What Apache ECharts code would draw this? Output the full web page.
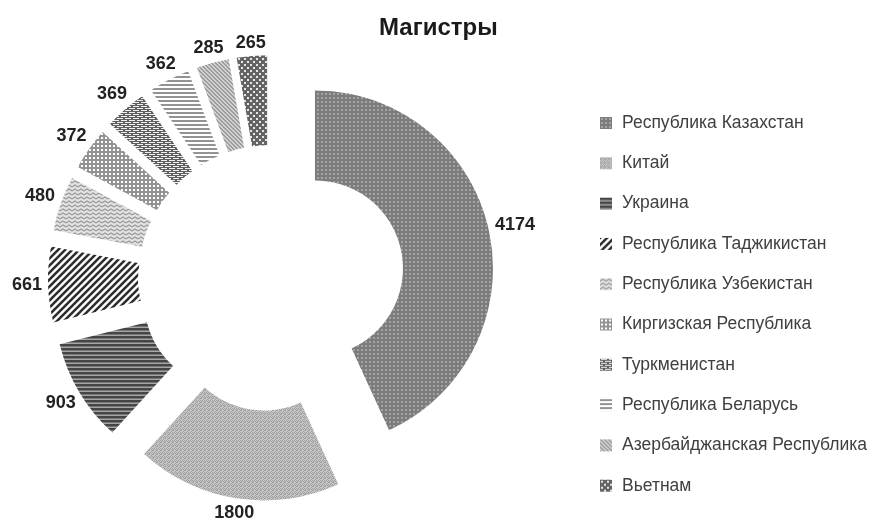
<!DOCTYPE html>
<html lang="ru">
<head>
    <meta charset="UTF-8">
    <title>Магистры</title>
    <script src="https://cdn.jsdelivr.net/npm/echarts@6/dist/echarts.min.js"></script>
    <style>
        html, body { margin: 0; padding: 0; background: #fff; }
        #chart { width: 871px; height: 528px; }
    </style>
</head>
<body>
<div id="chart"></div>
<script>
    // данные
    var countries = ['Республика Казахстан', 'Китай', 'Украина', 'Республика Таджикистан',
        'Республика Узбекистан', 'Киргизская Республика', 'Туркменистан',
        'Республика Беларусь', 'Азербайджанская Республика', 'Вьетнам'];
    var students = [4174, 1800, 903, 661, 480, 372, 369, 362, 285, 265];

    // штриховки
    function tile(w, h, draw) {
        var c = document.createElement('canvas');
        c.width = w;
        c.height = h;
        draw(c.getContext('2d'));
        return {image: c, repeat: 'repeat'};
    }

    var patterns = [
        // Казахстан - точки на сером
        tile(4, 4, function (ctx) {
            ctx.fillStyle = '#7c7c7c'; ctx.fillRect(0, 0, 4, 4);
            ctx.fillStyle = '#a4a4a4'; ctx.fillRect(1, 1, 2, 2);
        }),
        // Китай - мелкая клетка
        tile(4, 4, function (ctx) {
            ctx.fillStyle = '#c6c6c6'; ctx.fillRect(0, 0, 4, 4);
            ctx.fillStyle = '#a0a0a0';
            ctx.fillRect(0, 0, 1, 1); ctx.fillRect(2, 0, 1, 1);
            ctx.fillRect(1, 1, 1, 1); ctx.fillRect(3, 1, 1, 1);
            ctx.fillRect(0, 2, 2, 1); ctx.fillRect(3, 3, 1, 1);
        }),
        // Украина - темные горизонтальные полосы
        tile(1, 4, function (ctx) {
            ctx.fillStyle = '#a6a6a6'; ctx.fillRect(0, 0, 1, 4);
            ctx.fillStyle = '#454545'; ctx.fillRect(0, 0, 1, 2.5);
        }),
        // Таджикистан - широкая диагональ
        tile(7, 7, function (ctx) {
            ctx.fillStyle = '#fff'; ctx.fillRect(0, 0, 7, 7);
            ctx.strokeStyle = '#2e2e2e'; ctx.lineWidth = 2.6;
            ctx.beginPath();
            ctx.moveTo(-1, 8); ctx.lineTo(8, -1);
            ctx.moveTo(-4.5, 4.5); ctx.lineTo(4.5, -4.5);
            ctx.moveTo(2.5, 11.5); ctx.lineTo(11.5, 2.5);
            ctx.stroke();
        }),
        // Узбекистан - волна
        tile(6, 4, function (ctx) {
            ctx.fillStyle = '#e2e2e2'; ctx.fillRect(0, 0, 6, 4);
            ctx.strokeStyle = '#9a9a9a'; ctx.lineWidth = 1.2;
            ctx.beginPath();
            ctx.moveTo(0, 3); ctx.lineTo(3, 1); ctx.lineTo(6, 3);
            ctx.stroke();
        }),
        // Киргизия - решетка
        tile(4, 4, function (ctx) {
            ctx.fillStyle = '#939393'; ctx.fillRect(0, 0, 4, 4);
            ctx.fillStyle = '#ffffff'; ctx.fillRect(1, 1, 2, 2);
        }),
        // Туркменистан - кирпич
        tile(8, 4, function (ctx) {
            ctx.fillStyle = '#5e5e5e'; ctx.fillRect(0, 0, 8, 4);
            ctx.fillStyle = '#f0f0f0';
            ctx.fillRect(1, 0, 6, 1);
            ctx.fillRect(5, 2, 6, 1); ctx.fillRect(-3, 2, 6, 1);
        }),
        // Беларусь - светлые горизонтальные полосы
        tile(1, 4, function (ctx) {
            ctx.fillStyle = '#ffffff'; ctx.fillRect(0, 0, 1, 4);
            ctx.fillStyle = '#939393'; ctx.fillRect(0, 0, 1, 2);
        }),
        // Азербайджан - мелкая диагональ
        tile(4, 4, function (ctx) {
            ctx.fillStyle = '#d2d2d2'; ctx.fillRect(0, 0, 4, 4);
            ctx.fillStyle = '#9c9c9c';
            ctx.fillRect(0, 0, 1, 1); ctx.fillRect(1, 1, 1, 1);
            ctx.fillRect(2, 2, 1, 1); ctx.fillRect(3, 3, 1, 1);
            ctx.fillRect(1, 0, 1, 1); ctx.fillRect(2, 1, 1, 1);
            ctx.fillRect(3, 2, 1, 1); ctx.fillRect(0, 3, 1, 1);
        }),
        // Вьетнам - светлые пятна на темном
        tile(6, 6, function (ctx) {
            ctx.fillStyle = '#646464'; ctx.fillRect(0, 0, 6, 6);
            ctx.fillStyle = '#e6e6e6';
            ctx.fillRect(1, 1, 2, 2); ctx.fillRect(4, 4, 2, 2);
        })
    ];

    var cx = 271, cy = 278, rIn = 88, rOut = 178, shift = 45;

    // середины секторов, по часовой от 12 часов
    var total = students.reduce(function (s, v) { return s + v; }, 0);
    var midAngles = [];
    var acc = 0;
    students.forEach(function (v) {
        midAngles.push((acc + v / 2) / total * Math.PI * 2);
        acc += v;
    });

    // каждый сектор - своя серия, сдвинутая наружу (выдвинутые секторы)
    var series = countries.map(function (own, i) {
        var a = midAngles[i];
        return {
            type: 'pie',
            silent: true,
            center: [cx + Math.sin(a) * shift, cy - Math.cos(a) * shift],
            radius: [rIn, rOut],
            startAngle: 90,
            clockwise: true,
            avoidLabelOverlap: false,
            label: {
                position: 'outside',
                formatter: '{c}',
                fontFamily: 'Liberation Sans, Arial',
                fontSize: 18,
                fontWeight: 'bold',
                color: '#222'
            },
            labelLine: {show: false},
            // подпись на луче через середину сектора, сразу за его краем
            labelLayout: function (p) {
                var dx = Math.sin(a), dy = -Math.cos(a);
                var r = p.labelRect;
                var d = rOut + shift + 6 + Math.abs(dx) * r.width / 2 + Math.abs(dy) * r.height * 0.32;
                return {x: cx + dx * d, y: cy + dy * d, align: 'center', verticalAlign: 'middle'};
            },
            data: countries.map(function (name, j) {
                return {
                    name: name,
                    value: students[j],
                    itemStyle: {color: j === i ? patterns[j] : 'rgba(0,0,0,0)'},
                    label: {show: j === i}
                };
            })
        };
    });

    var chart = echarts.init(document.getElementById('chart'), null, {renderer: 'canvas'});
    chart.setOption({
        animation: false,
        title: {
            text: 'Магистры',
            left: 374,
            top: 11,
            textStyle: {fontFamily: 'Liberation Sans, Arial', fontSize: 24, fontWeight: 'bold', color: '#1a1a1a'}
        },
        legend: {
            orient: 'vertical',
            left: 595,
            top: 109,
            itemWidth: 12,
            itemHeight: 12,
            itemGap: 22.3,
            selectedMode: false,
            icon: 'rect',
            textStyle: {fontFamily: 'Liberation Sans, Arial', fontSize: 17.5, color: '#404040', padding: [0, 0, 0, 5]},
            data: countries.map(function (name, i) {
                return {name: name, itemStyle: {color: patterns[i]}};
            })
        },
        series: series
    });
</script>
</body>
</html>
